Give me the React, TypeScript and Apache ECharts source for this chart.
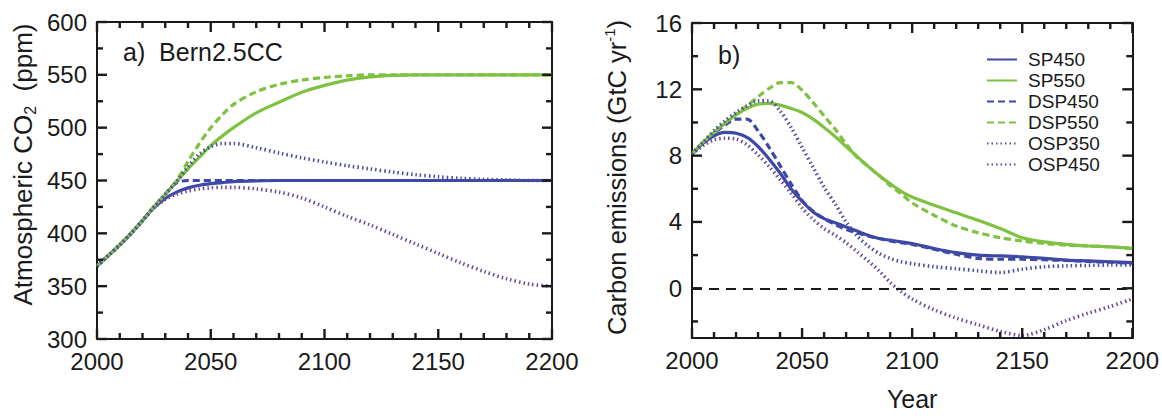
import React, { useEffect, useRef } from "react";
import * as echarts from "echarts";

// ---------- Panel a: atmospheric CO2 (ppm) ----------
const co2Years = [
  2000, 2005, 2010, 2015, 2020, 2025, 2030, 2035, 2040, 2045, 2050, 2055, 2060,
  2070, 2080, 2090, 2100, 2110, 2120, 2130, 2140, 2150, 2160, 2170, 2180, 2190, 2200,
];
const co2SP450 = [369, 379, 389, 400, 412, 424, 433, 439, 443, 445.5, 447, 448, 449, 449.7, 450, 450, 450, 450, 450, 450, 450, 450, 450, 450, 450, 450, 450];
const co2DSP450 = [369, 379, 389, 400, 412, 425, 437, 448, 450, 450, 450, 450, 450, 450, 450, 450, 450, 450, 450, 450, 450, 450, 450, 450, 450, 450, 450];
const co2SP550 = [369, 379, 389, 400, 412, 425, 437, 449, 461, 472, 483, 492, 500, 514, 524, 533.5, 540, 545, 548, 549.5, 550, 550, 550, 550, 550, 550, 550];
const co2DSP550 = [369, 379, 389, 400, 412, 425, 437, 450, 468, 485, 500, 512, 522, 534, 541, 545, 547.5, 549, 550, 550, 550, 550, 550, 550, 550, 550, 550];
const co2OSP350 = [369, 379, 389, 400, 412, 424, 432, 437, 440, 442, 443, 443.5, 443.5, 442, 439, 433.5, 425, 416, 408, 399, 390, 381, 372, 364, 357, 352, 350];
const co2OSP450 = [369, 379, 389, 400, 412, 425, 437, 449, 463, 475, 482, 485, 485, 481, 476, 471.5, 467.5, 464, 461, 458, 455.5, 453.5, 452, 451, 450.5, 450, 450];

// ---------- Panel b: carbon emissions (GtC/yr) ----------
const emYears = [
  2000, 2005, 2010, 2015, 2020, 2025, 2030, 2035, 2040, 2045, 2050, 2055, 2060, 2065,
  2070, 2075, 2080, 2085, 2090, 2095, 2100, 2110, 2120, 2130, 2140, 2150, 2160, 2170,
  2180, 2190, 2200,
];
const emSP450 = [8.1, 8.75, 9.2, 9.4, 9.35, 9.1, 8.55, 7.8, 6.95, 6.0, 5.25, 4.6, 4.2, 3.95, 3.7, 3.45, 3.2, 3.0, 2.9, 2.8, 2.7, 2.4, 2.15, 2.0, 1.95, 1.9, 1.8, 1.7, 1.65, 1.6, 1.55];
const emDSP450 = [8.1, 8.75, 9.35, 9.85, 10.2, 10.2, 9.5, 8.5, 7.4, 6.3, 5.3, 4.65, 4.2, 3.85, 3.55, 3.35, 3.15, 3.0, 2.85, 2.75, 2.65, 2.35, 2.05, 1.8, 1.75, 1.75, 1.72, 1.68, 1.62, 1.57, 1.52];
const emSP550 = [8.1, 8.8, 9.4, 9.95, 10.45, 10.85, 11.1, 11.15, 11.05, 10.85, 10.6, 10.2, 9.7, 9.15, 8.55, 7.95, 7.35, 6.8, 6.3, 5.85, 5.5, 5.0, 4.55, 4.1, 3.6, 3.05, 2.8, 2.65, 2.55, 2.5, 2.4];
const emDSP550 = [8.1, 8.8, 9.4, 9.95, 10.5, 11.0, 11.55, 12.05, 12.4, 12.4, 11.95, 11.2, 10.4, 9.6, 8.7, 7.9, 7.35, 6.8, 6.2, 5.7, 5.15, 4.4, 3.75, 3.35, 3.05, 2.85, 2.7, 2.6, 2.55, 2.5, 2.4];
const emOSP350 = [8.1, 8.6, 8.95, 9.05, 9.0, 8.65, 8.05, 7.35, 6.55, 5.75, 4.85, 4.15, 3.6, 3.2, 2.75, 2.2, 1.65, 1.05, 0.35, -0.2, -0.65, -1.3, -1.8, -2.2, -2.6, -2.85, -2.5, -1.95, -1.5, -1.1, -0.65];
const emOSP450 = [8.1, 8.8, 9.5, 10.1, 10.6, 11.0, 11.3, 11.3, 10.7, 9.7, 8.5, 7.3, 6.1, 5.1, 4.0, 3.15, 2.55, 2.1, 1.8, 1.6, 1.48, 1.3, 1.18, 1.05, 0.95, 1.15, 1.3, 1.35, 1.38, 1.4, 1.4];

// ---------- Axis scales and ticks ----------
const yearMin = 2000;
const yearMax = 2200;
const yearStep = 50;
const yearMinorStep = 10;
const co2Min = 300;
const co2Max = 600;
const co2Step = 50;
const co2MinorStep = 25;
const emMin = -3;
const emMax = 16;
const emLabelValues = [0, 4, 8, 12, 16];
const emMinorValues = [-2, 2, 6, 10, 14];
const zeroLine = 0;

const seriesNames = ["SP450", "SP550", "DSP450", "DSP550", "OSP350", "OSP450"];

const BLUE = "#3e48a6";
const GREEN = "#7fc241";
const PURPLE = "#6a4c9c";
const NAVY = "#4a4c9e";
const INK = "#1a1a1a";
const FONT = "'Liberation Sans', Arial, sans-serif";
const MAJOR_LEN = 10;
const MINOR_LEN = 6;

const styleFor: Record<string, { color: string; type: any; width: number }> = {
  SP450: { color: BLUE, type: "solid", width: 3.2 },
  SP550: { color: GREEN, type: "solid", width: 3.2 },
  DSP450: { color: BLUE, type: [7, 4], width: 3.2 },
  DSP550: { color: GREEN, type: [7, 4], width: 3.2 },
  OSP350: { color: PURPLE, type: [1.5, 3], width: 3.6 },
  OSP450: { color: NAVY, type: [1.5, 3], width: 3.6 },
};

const co2Data: Record<string, number[]> = {
  SP450: co2SP450, SP550: co2SP550, DSP450: co2DSP450,
  DSP550: co2DSP550, OSP350: co2OSP350, OSP450: co2OSP450,
};
const emData: Record<string, number[]> = {
  SP450: emSP450, SP550: emSP550, DSP450: emDSP450,
  DSP550: emDSP550, OSP350: emOSP350, OSP450: emOSP450,
};

const pairs = (xs: number[], ys: number[]) => xs.map((x, i) => [x, ys[i]]);

function stepValues(min: number, max: number, step: number) {
  const out: number[] = [];
  for (let v = min; v <= max + 1e-9; v += step) out.push(v);
  return out;
}

// One custom series per tick family (inside ticks on all four sides of a panel).
function tickSeries(
  xi: number, yi: number, kind: "x" | "y", values: number[], len: number,
  xr: number[], yr: number[]
) {
  const data = values.map((v) => (kind === "x" ? [v, yr[0]] : [xr[0], v]));
  return {
    type: "custom",
    xAxisIndex: xi,
    yAxisIndex: yi,
    silent: true,
    clip: false,
    z: 10,
    data,
    renderItem: (_p: any, api: any) => {
      const st = { stroke: INK, lineWidth: 2.4 };
      if (kind === "x") {
        const v = api.value(0);
        const b = api.coord([v, yr[0]]);
        const t = api.coord([v, yr[1]]);
        return {
          type: "group",
          children: [
            { type: "line", shape: { x1: b[0], y1: b[1], x2: b[0], y2: b[1] - len }, style: st },
            { type: "line", shape: { x1: t[0], y1: t[1], x2: t[0], y2: t[1] + len }, style: st },
          ],
        };
      }
      const v = api.value(1);
      const l = api.coord([xr[0], v]);
      const r = api.coord([xr[1], v]);
      return {
        type: "group",
        children: [
          { type: "line", shape: { x1: l[0], y1: l[1], x2: l[0] + len, y2: l[1] }, style: st },
          { type: "line", shape: { x1: r[0], y1: r[1], x2: r[0] - len, y2: r[1] }, style: st },
        ],
      };
    },
  };
}

const lineAx = { show: true, onZero: false, lineStyle: { color: INK, width: 2 } };
const labelFont = { fontFamily: FONT, fontSize: 24, color: INK };

function xAxisFor(grid: number, position: string, showLabel: boolean, name?: string) {
  return {
    type: "value",
    gridIndex: grid,
    position,
    min: yearMin,
    max: yearMax,
    interval: yearStep,
    axisLine: { ...lineAx },
    axisTick: { show: false },
    minorTick: { show: false },
    splitLine: { show: false },
    axisLabel: { show: showLabel, margin: 10, ...labelFont, formatter: (v: number) => String(v) },
    name: name || "",
    nameLocation: "middle",
    nameGap: 48,
    nameTextStyle: { fontFamily: FONT, fontSize: 25, color: INK },
  };
}

function co2YAxis(position: string, showLabel: boolean) {
  return {
    type: "value",
    gridIndex: 0,
    position,
    min: co2Min,
    max: co2Max,
    interval: co2Step,
    axisLine: { ...lineAx },
    axisTick: { show: false },
    minorTick: { show: false },
    splitLine: { show: false },
    axisLabel: { show: showLabel, margin: 10, ...labelFont },
    name: showLabel ? "Atmospheric CO{sub|2}  (ppm)" : "",
    nameLocation: "middle",
    nameRotate: 90,
    nameGap: 59,
    nameTextStyle: {
      fontFamily: FONT,
      fontSize: 26,
      color: INK,
      lineHeight: 30,
      padding: [0, 0, 0, 32],
      rich: { sub: { fontFamily: FONT, fontSize: 16, color: INK, verticalAlign: "bottom", lineHeight: 30 } },
    },
  };
}

function emYAxis(position: string, showLabel: boolean) {
  return {
    type: "value",
    gridIndex: 1,
    position,
    min: emMin,
    max: emMax,
    axisLine: { ...lineAx },
    axisTick: { show: false },
    minorTick: { show: false },
    splitLine: { show: false },
    axisLabel: {
      show: showLabel,
      margin: 10,
      ...labelFont,
      customValues: emLabelValues,
      formatter: (v: number) => String(v),
    },
    name: showLabel ? "Carbon emissions (GtC yr{sup|-1})" : "",
    nameLocation: "middle",
    nameRotate: 90,
    nameGap: 60,
    nameTextStyle: {
      fontFamily: FONT,
      fontSize: 25.5,
      color: INK,
      lineHeight: 30,
      padding: [0, 0, 0, 6],
      rich: { sup: { fontFamily: FONT, fontSize: 15, color: INK, verticalAlign: "top", lineHeight: 30 } },
    },
  };
}

export default function App() {
  const ref = useRef<HTMLDivElement>(null);

  useEffect(() => {
    document.body.style.margin = "0";
    const chart = echarts.init(ref.current!, null, { renderer: "svg" });

    const series: any[] = [];
    seriesNames.forEach((n) => {
      const st = styleFor[n];
      series.push({
        name: n,
        type: "line",
        xAxisIndex: 0,
        yAxisIndex: 0,
        data: pairs(co2Years, co2Data[n]),
        showSymbol: false,
        symbol: "none",
        smooth: 0.3,
        lineStyle: { color: st.color, type: st.type, width: st.width },
        itemStyle: { color: st.color },
      });
    });
    seriesNames.forEach((n, i) => {
      const st = styleFor[n];
      const s: any = {
        name: n,
        type: "line",
        xAxisIndex: 2,
        yAxisIndex: 2,
        data: pairs(emYears, emData[n]),
        showSymbol: false,
        symbol: "none",
        smooth: 0.3,
        lineStyle: { color: st.color, type: st.type, width: st.width },
        itemStyle: { color: st.color },
      };
      if (i === 0) {
        s.markLine = {
          silent: true,
          symbol: ["none", "none"],
          label: { show: false },
          lineStyle: { color: INK, type: [10, 7], width: 2 },
          data: [{ yAxis: zeroLine }],
        };
      }
      series.push(s);
    });

    const yearMajor = stepValues(yearMin, yearMax, yearStep);
    const yearMinor = stepValues(yearMin, yearMax, yearMinorStep).filter((v) => !yearMajor.includes(v));
    const co2Major = stepValues(co2Min, co2Max, co2Step);
    const co2Minor = stepValues(co2Min, co2Max, co2MinorStep).filter((v) => !co2Major.includes(v));
    const yrA = [yearMin, yearMax];
    const co2R = [co2Min, co2Max];
    const emR = [emMin, emMax];

    series.push(
      tickSeries(0, 0, "x", yearMajor, MAJOR_LEN, yrA, co2R),
      tickSeries(0, 0, "x", yearMinor, MINOR_LEN, yrA, co2R),
      tickSeries(0, 0, "y", co2Major, MAJOR_LEN, yrA, co2R),
      tickSeries(0, 0, "y", co2Minor, MINOR_LEN, yrA, co2R),
      tickSeries(2, 2, "x", yearMajor, MAJOR_LEN, yrA, emR),
      tickSeries(2, 2, "x", yearMinor, MINOR_LEN, yrA, emR),
      tickSeries(2, 2, "y", emLabelValues, MAJOR_LEN, yrA, emR),
      tickSeries(2, 2, "y", emMinorValues, MINOR_LEN, yrA, emR)
    );

    chart.setOption({
      animation: false,
      backgroundColor: "#ffffff",
      grid: [
        { left: 97, top: 22, width: 455, height: 317 },
        { left: 692, top: 23, width: 445, height: 318 },
      ],
      xAxis: [
        xAxisFor(0, "bottom", true),
        xAxisFor(0, "top", false),
        xAxisFor(1, "bottom", true, "Year"),
        xAxisFor(1, "top", false),
      ],
      yAxis: [
        co2YAxis("left", true),
        co2YAxis("right", false),
        emYAxis("left", true),
        emYAxis("right", false),
      ],
      legend: {
        data: seriesNames,
        orient: "vertical",
        left: 981,
        top: 45,
        itemWidth: 30,
        itemHeight: 12,
        itemGap: 2,
        itemStyle: { opacity: 0 },
        textStyle: { fontFamily: FONT, fontSize: 19, color: INK, padding: [0, 0, 0, 6] },
        selectedMode: false,
      },
      graphic: [
        {
          type: "text",
          left: 123,
          top: 39,
          style: { text: "a)  Bern2.5CC", font: `25px ${FONT}`, fill: INK },
        },
        {
          type: "text",
          left: 718,
          top: 42,
          style: { text: "b)", font: `25px ${FONT}`, fill: INK },
        },
      ],
      series,
    });

    return () => chart.dispose();
  }, []);

  return <div ref={ref} style={{ width: 1162, height: 416 }} />;
}
